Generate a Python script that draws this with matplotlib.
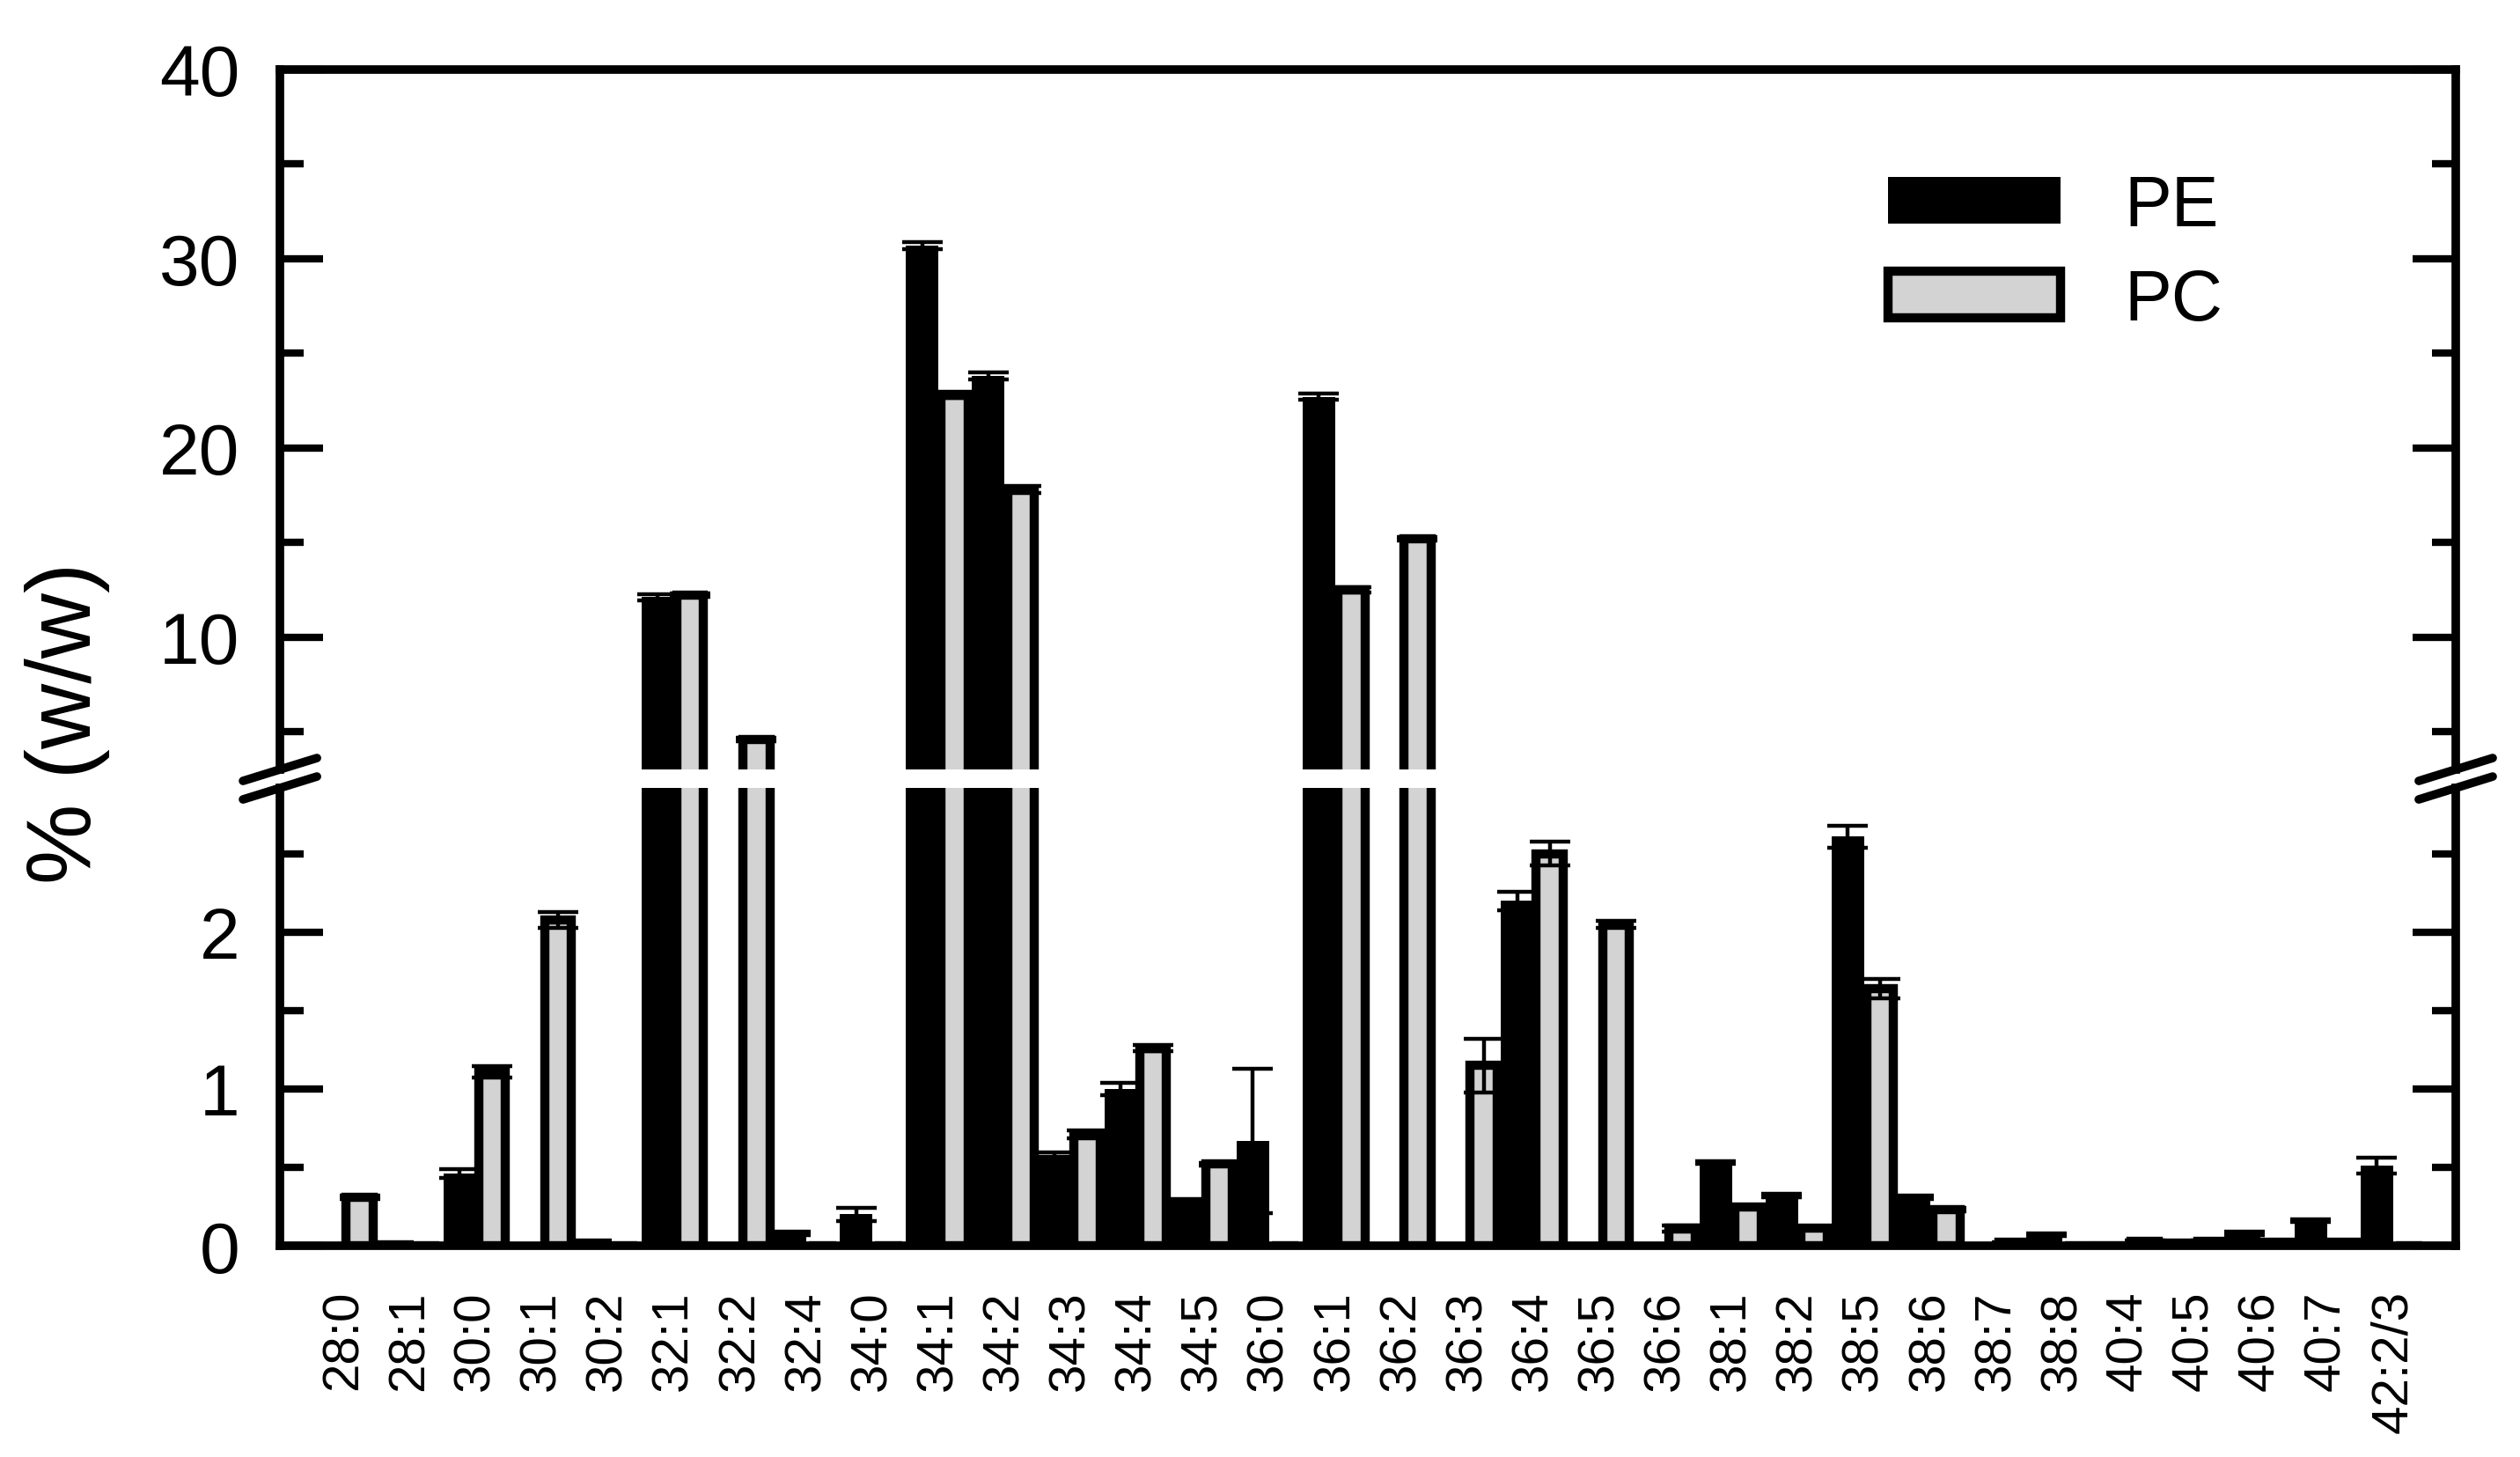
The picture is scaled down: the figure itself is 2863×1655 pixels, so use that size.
import matplotlib
matplotlib.use('Agg')
import matplotlib.pyplot as plt
from matplotlib.patches import Patch
from matplotlib.lines import Line2D
import numpy as np

plt.rcParams['font.family'] = ['Liberation Sans', 'DejaVu Sans']

# fatty acid species (carbons:double bonds)
species = ['28:0', '28:1', '30:0', '30:1', '30:2', '32:1', '32:2', '32:4', '34:0',
           '34:1', '34:2', '34:3', '34:4', '34:5', '36:0', '36:1', '36:2', '36:3',
           '36:4', '36:5', '36:6', '38:1', '38:2', '38:5', '38:6', '38:7', '38:8',
           '40:4', '40:5', '40:6', '40:7', '42:2/3']

pe = [0, 0.02, 0.46, 0, 0.03, 12.1, 0, 0.08, 0.2,
      30.7, 23.8, 0.58, 1.0, 0.29, 0.67, 22.7, 0, 0,
      2.2, 0, 0, 0.53, 0.32, 2.61, 0.31, 0, 0.07,
      0.01, 0.03, 0.08, 0.16, 0.51]
pe_err = [0, 0.005, 0.03, 0, 0.005, 0.15, 0, 0.01, 0.04,
          0.2, 0.2, 0.015, 0.04, 0.01, 0.46, 0.15, 0, 0,
          0.06, 0, 0, 0.01, 0.01, 0.07, 0.01, 0, 0.01,
          0.005, 0.005, 0.01, 0.01, 0.05]

pc = [0.31, 0, 1.11, 2.08, 0, 12.2, 4.6, 0, 0,
      22.8, 17.8, 0.71, 1.26, 0.52, 0, 12.5, 15.2, 1.15,
      2.5, 2.05, 0.11, 0.25, 0.11, 1.64, 0.23, 0.02, 0,
      0.03, 0.03, 0.02, 0.02, 0]
pc_err = [0.01, 0, 0.035, 0.05, 0, 0.1, 0.1, 0, 0,
          0.15, 0.2, 0.025, 0.02, 0.01, 0, 0.15, 0.1, 0.17,
          0.075, 0.02, 0.02, 0.01, 0.01, 0.06, 0.01, 0.005, 0,
          0.005, 0.005, 0.005, 0.005, 0]

x = np.arange(len(species))
pe = np.array(pe)
pc = np.array(pc)

W, H = 2863, 1656
fig = plt.figure(figsize=(W / 100, H / 100), dpi=100)
ax_top = fig.add_axes([0.1111, 0.4716, 0.8634, 0.4801])
ax_bot = fig.add_axes([0.1111, 0.1449, 0.8634, 0.3140])

for ax in (ax_top, ax_bot):
    ax.bar(x - 0.245, pe, width=0.49, color='black', linewidth=0, zorder=2)
    ax.bar(x + 0.246, pc, width=0.406, color='lightgray', edgecolor='black',
           linewidth=7.5, zorder=3)
    ax.errorbar(x - 0.245, np.where(pe > 0, pe, np.nan), yerr=pe_err, fmt='none',
                ecolor='black', elinewidth=3.2, capsize=16.5, capthick=3.2, zorder=4)
    ax.errorbar(x + 0.246, np.where(pc > 0, pc, np.nan), yerr=pc_err, fmt='none',
                ecolor='black', elinewidth=3.2, capsize=16.5, capthick=3.2, zorder=4)
    ax.set_xlim(-0.96, 31.95)
    for s in ax.spines.values():
        s.set_linewidth(7)
    ax.tick_params(axis='y', which='both', direction='in', left=True, right=True,
                   labelright=False, width=6, pad=33, labelsize=59)
    ax.tick_params(axis='y', which='major', length=35)
    ax.tick_params(axis='y', which='minor', length=19.5)

ax_top.set_ylim(3.0, 40)
ax_top.set_yticks([10, 20, 30, 40])
ax_top.set_yticks([5, 15, 25, 35], minor=True)
ax_top.spines['bottom'].set_visible(False)
ax_top.tick_params(axis='x', bottom=False, labelbottom=False)

ax_bot.set_ylim(0, 2.92)
ax_bot.set_yticks([0, 1, 2])
ax_bot.set_yticks([0.5, 1.5, 2.5], minor=True)
ax_bot.spines['top'].set_visible(False)
ax_bot.set_xticks(x)
ax_bot.set_xticklabels(species, rotation=90, fontsize=42)
ax_bot.tick_params(axis='x', length=0, pad=36)

# break marks on both sides
dx, dy = 42 / W, 13 / H
for ax, yy in ((ax_top, ax_top.get_position().y0), (ax_bot, ax_bot.get_position().y1)):
    p = ax.get_position()
    for xx in (p.x0, p.x1):
        fig.add_artist(Line2D([xx - dx, xx + dx], [yy - dy, yy + dy], color='black',
                              lw=7, solid_capstyle='round', transform=fig.transFigure))

handles = [Patch(facecolor='black', edgecolor='black', linewidth=0),
           Patch(facecolor='lightgray', edgecolor='black', linewidth=7.5)]
ax_top.legend(handles, ['PE', 'PC'], loc='upper left',
              bbox_to_anchor=(2145 / W, 1 - 198 / H), bbox_transform=fig.transFigure,
              frameon=False, fontsize=58, handlelength=2.43, handleheight=0.63,
              handletextpad=0.9, labelspacing=0.38, borderpad=0, borderaxespad=0)

fig.text(77 / W, 1 - 821 / H, '% (w/w)', rotation=90, ha='center', va='center',
         fontsize=74)

plt.savefig('out.png', dpi=100)
